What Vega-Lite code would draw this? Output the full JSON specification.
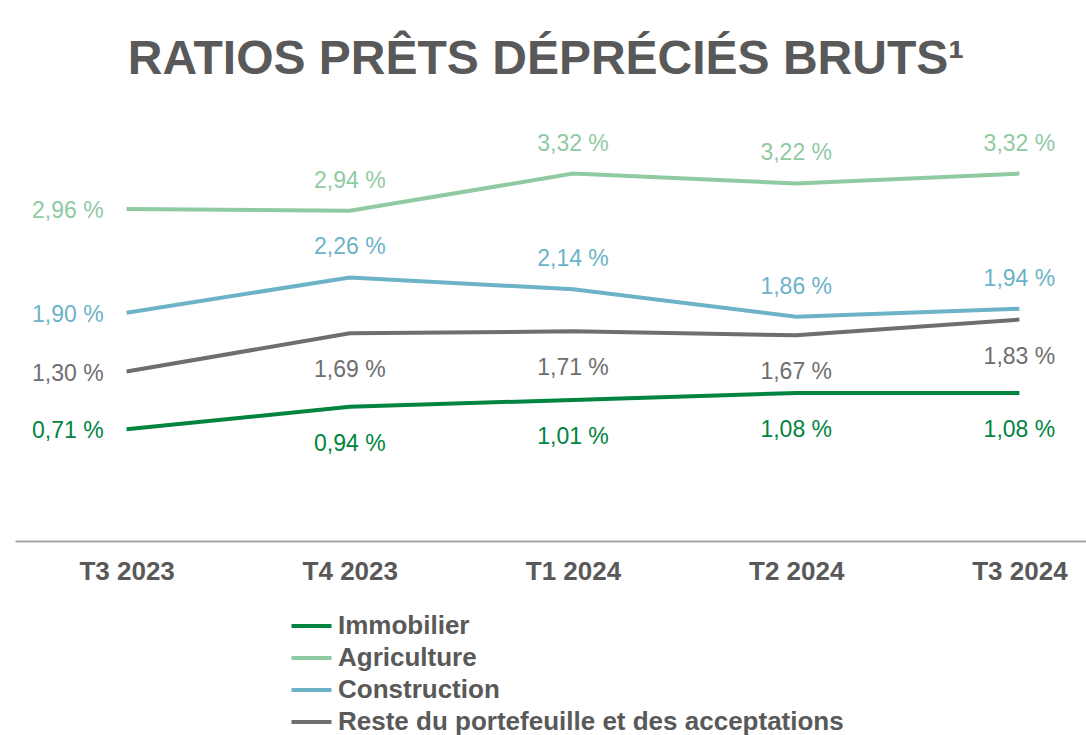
{
  "$schema": "https://vega.github.io/schema/vega-lite/v6.json",
  "width": 1116,
  "height": 434,
  "autosize": {"type": "none"},
  "padding": {"left": 15, "top": 107, "right": 0, "bottom": 194},
  "background": "white",
  "title": {
    "text": "RATIOS PRÊTS DÉPRÉCIÉS BRUTS¹",
    "font": "Liberation Sans",
    "fontSize": 48,
    "fontWeight": "bold",
    "color": "#595959",
    "anchor": "middle",
    "dx": -27,
    "offset": -15,
    "baseline": "alphabetic"
  },
  "data": {
    "values": [
      {"serie": "Immobilier", "trimestre": "T3 2023", "taux": 0.71},
      {"serie": "Immobilier", "trimestre": "T4 2023", "taux": 0.94},
      {"serie": "Immobilier", "trimestre": "T1 2024", "taux": 1.01},
      {"serie": "Immobilier", "trimestre": "T2 2024", "taux": 1.08},
      {"serie": "Immobilier", "trimestre": "T3 2024", "taux": 1.08},
      {"serie": "Agriculture", "trimestre": "T3 2023", "taux": 2.96},
      {"serie": "Agriculture", "trimestre": "T4 2023", "taux": 2.94},
      {"serie": "Agriculture", "trimestre": "T1 2024", "taux": 3.32},
      {"serie": "Agriculture", "trimestre": "T2 2024", "taux": 3.22},
      {"serie": "Agriculture", "trimestre": "T3 2024", "taux": 3.32},
      {"serie": "Construction", "trimestre": "T3 2023", "taux": 1.90},
      {"serie": "Construction", "trimestre": "T4 2023", "taux": 2.26},
      {"serie": "Construction", "trimestre": "T1 2024", "taux": 2.14},
      {"serie": "Construction", "trimestre": "T2 2024", "taux": 1.86},
      {"serie": "Construction", "trimestre": "T3 2024", "taux": 1.94},
      {"serie": "Reste du portefeuille et des acceptations", "trimestre": "T3 2023", "taux": 1.30},
      {"serie": "Reste du portefeuille et des acceptations", "trimestre": "T4 2023", "taux": 1.69},
      {"serie": "Reste du portefeuille et des acceptations", "trimestre": "T1 2024", "taux": 1.71},
      {"serie": "Reste du portefeuille et des acceptations", "trimestre": "T2 2024", "taux": 1.67},
      {"serie": "Reste du portefeuille et des acceptations", "trimestre": "T3 2024", "taux": 1.83}
    ]
  },
  "transform": [
    {"calculate": "replace(format(datum.taux, '.2f'), '.', ',') + ' %'", "as": "etiquette"}
  ],
  "encoding": {
    "x": {
      "field": "trimestre",
      "type": "ordinal",
      "sort": ["T3 2023", "T4 2023", "T1 2024", "T2 2024", "T3 2024"],
      "scale": {"type": "point", "padding": 0.5},
      "axis": {"title": null, "labelAngle": 0}
    },
    "y": {
      "field": "taux",
      "type": "quantitative",
      "scale": {"domain": [-0.43, 4.0], "nice": false, "zero": false},
      "axis": null
    }
  },
  "layer": [
    {
      "mark": {"type": "line", "strokeWidth": 4},
      "encoding": {
        "color": {
          "field": "serie",
          "type": "nominal",
          "scale": {
            "domain": ["Immobilier", "Agriculture", "Construction", "Reste du portefeuille et des acceptations"],
            "range": ["#00843F", "#8FCAA3", "#6CB3C8", "#6E6E70"]
          },
          "legend": {
            "title": null,
            "orient": "none",
            "legendX": 283.5,
            "legendY": 506,
            "direction": "vertical",
            "symbolType": "M-2,0H2",
            "symbolSize": 400,
            "symbolStrokeWidth": 4,
            "labelFont": "Liberation Sans",
            "labelFontSize": 26,
            "labelFontWeight": "bold",
            "labelColor": "#595959",
            "labelOffset": 13.5,
            "labelLimit": 0,
            "rowPadding": 6,
            "padding": 0
          }
        }
      }
    },
    {
      "transform": [{"filter": "datum.trimestre === 'T3 2023'"}],
      "mark": {"type": "text", "align": "right", "baseline": "middle", "dx": -23, "dy": 2, "font": "Liberation Sans", "fontSize": 23},
      "encoding": {
        "text": {"field": "etiquette"},
        "color": {"field": "serie", "type": "nominal", "legend": null}
      }
    },
    {
      "transform": [{"filter": "datum.trimestre !== 'T3 2023' && (datum.serie === 'Agriculture' || datum.serie === 'Construction')"}],
      "mark": {"type": "text", "align": "center", "baseline": "middle", "dy": -30, "font": "Liberation Sans", "fontSize": 23},
      "encoding": {
        "text": {"field": "etiquette"},
        "color": {"field": "serie", "type": "nominal", "legend": null}
      }
    },
    {
      "transform": [{"filter": "datum.trimestre !== 'T3 2023' && (datum.serie === 'Immobilier' || datum.serie === 'Reste du portefeuille et des acceptations')"}],
      "mark": {"type": "text", "align": "center", "baseline": "middle", "dy": 37, "font": "Liberation Sans", "fontSize": 23},
      "encoding": {
        "text": {"field": "etiquette"},
        "color": {"field": "serie", "type": "nominal", "legend": null}
      }
    }
  ],
  "config": {
    "view": {"stroke": null},
    "axis": {
      "grid": false,
      "ticks": false,
      "domainColor": "#A6A6A6",
      "domainWidth": 2,
      "labelFont": "Liberation Sans",
      "labelFontSize": 26,
      "labelFontWeight": "bold",
      "labelColor": "#595959",
      "labelPadding": 17
    }
  }
}
